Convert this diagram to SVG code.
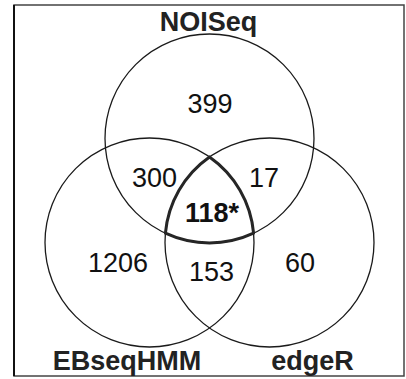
<svg xmlns="http://www.w3.org/2000/svg" width="406" height="379" viewBox="0 0 406 379">
  <style>
    .set { fill: none; stroke: #1a1a1a; stroke-width: 1.3; }
    .core { fill: none; stroke: #262626; stroke-width: 3; stroke-linejoin: round; }
    .frame { fill: #ffffff; stroke: #444444; stroke-width: 1.5; }
    .num { font-family: "Liberation Sans", Arial, sans-serif; font-size: 27px; fill: #111111; text-anchor: middle; }
    .lbl { font-family: "Liberation Sans", Arial, sans-serif; font-size: 27px; font-weight: bold; fill: #222222; text-anchor: middle; }
  </style>
  <rect class="frame" x="14" y="5" width="390" height="371"/>
  <line x1="14" y1="5" x2="14" y2="376" stroke="#111111" stroke-width="2"/>

  <!-- set circles -->
  <g id="noiseq">
    <circle class="set" cx="209.5" cy="138.5" r="104.5"/>
    <text class="lbl" x="208.5" y="31">NOISeq</text>
  </g>
  <g id="ebseqhmm">
    <circle class="set" cx="149.5" cy="242.5" r="104.5"/>
    <text class="lbl" x="127" y="370">EBseqHMM</text>
  </g>
  <g id="edger">
    <circle class="set" cx="269.5" cy="242.5" r="104.5"/>
    <text class="lbl" x="312.5" y="370">edgeR</text>
  </g>

  <!-- region counts -->
  <g id="counts">
    <text class="num" x="210" y="113">399</text>
    <text class="num" x="154.5" y="187">300</text>
    <text class="num" x="264" y="187">17</text>
    <text class="num" x="118" y="272">1206</text>
    <text class="num" x="211.5" y="281">153</text>
    <text class="num" x="300" y="272">60</text>
  </g>

  <!-- shared core of all three sets -->
  <g id="core">
    <path class="core" d="M209.5,156.9 A104.5,104.5 0 0,1 253.6,233.2 A104.5,104.5 0 0,1 165.4,233.2 A104.5,104.5 0 0,1 209.5,156.9 Z"/>
    <text class="lbl" x="212" y="222" style="fill:#111111">118*</text>
  </g>
</svg>
